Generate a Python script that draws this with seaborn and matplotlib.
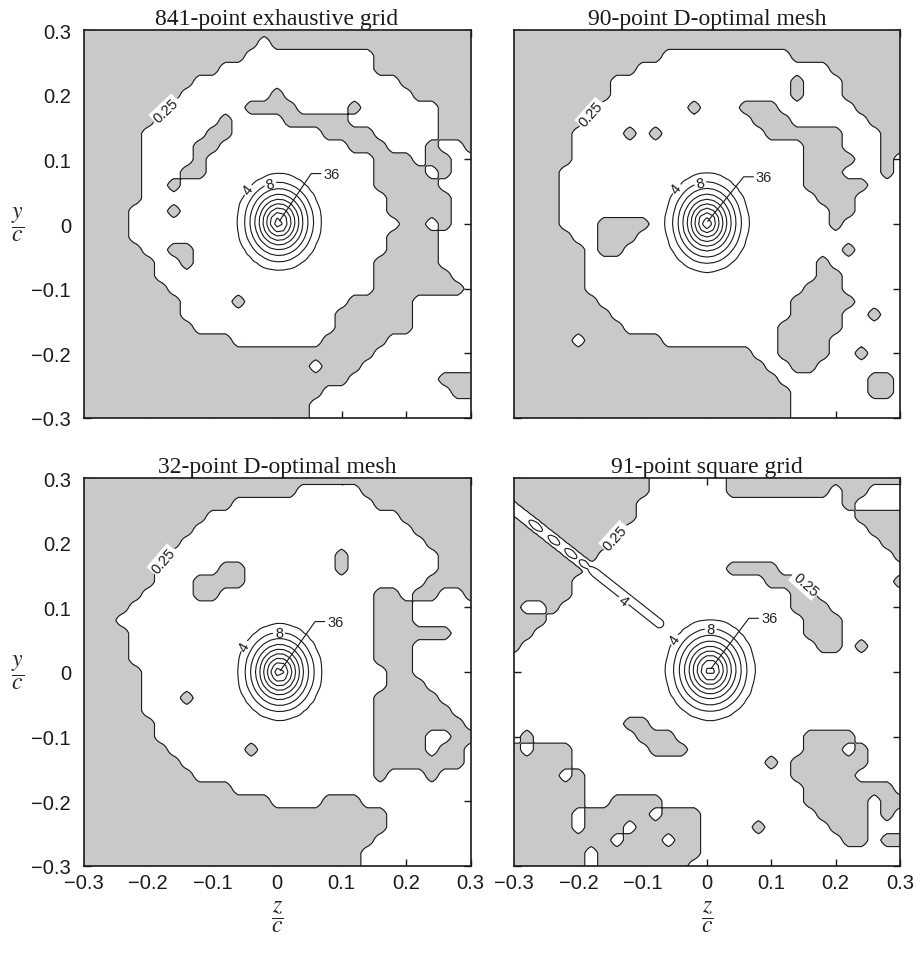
import numpy as np
import matplotlib
matplotlib.use("Agg")
import matplotlib.pyplot as plt
import seaborn as sns

# ---------------- data ----------------
TITLES = ["841-point exhaustive grid", "90-point D-optimal mesh",
          "32-point D-optimal mesh", "91-point square grid"]
TICKS = [-0.3, -0.2, -0.1, 0.0, 0.1, 0.2, 0.3]
TICK_LABELS = ["\u22120.3", "\u22120.2", "\u22120.1", "0", "0.1", "0.2", "0.3"]
BOUNDARY_LEVEL = 0.25
PEAK_LEVELS = [4, 8, 12, 16, 20, 24, 28, 32, 36]

# radial profile of the central peak (radius in z/c, value)
PEAK_R = [0.0, 0.0055, 0.013, 0.018, 0.024, 0.030, 0.036, 0.044, 0.052, 0.062, 0.085]
PEAK_V = [42, 36, 32, 28, 24, 20, 16, 12, 8, 4, 0]
PEAK_CENTER = [(0.003, 0.003), (0.0, 0.002), (0.004, 0.0), (0.005, 0.003)]
PEAK_ASPECT = [1.15, 1.18, 1.15, 1.12]
PEAK_SCALE = [1.0, 1.0, 1.0, 1.07]

# white (above 0.25) runs per row of a 31x31 grid, step 0.02, row 0 = y/c 0.3
WHITE_841 = [
    [], [(14, 14)], [(13, 22)], [(11, 22)], [(9, 24)], [(8, 14), (16, 25)],
    [(7, 12), (17, 20), (22, 27)], [(6, 10), (12, 15), (21, 27)],
    [(5, 9), (12, 18), (23, 27)], [(5, 8), (11, 20), (24, 26), (28, 29)],
    [(5, 8), (10, 22), (26, 26), (29, 30)], [(5, 7), (10, 22), (27, 27), (29, 30)],
    [(5, 6), (8, 22), (28, 30)], [(5, 23), (29, 30)], [(4, 6), (8, 23), (29, 30)],
    [(4, 24), (27, 27), (29, 30)], [(4, 23), (28, 30)], [(5, 6), (9, 23), (28, 30)],
    [(6, 7), (9, 22), (28, 30)], [(6, 22), (29, 30)], [(7, 22), (30, 30)],
    [(8, 11), (13, 20), (26, 30)], [(8, 19), (26, 30)], [(9, 19), (26, 30)],
    [(12, 18), (24, 30)], [(23, 30)], [(18, 18), (22, 30)], [(21, 27)],
    [(19, 28)], [(18, 30)], [(18, 30)]]
WHITE_90 = [
    [], [], [(12, 21)], [(10, 24)], [(8, 21), (23, 25)], [(8, 21), (23, 25)],
    [(7, 13), (15, 17), (21, 26)], [(6, 18), (22, 27)],
    [(5, 8), (10, 10), (12, 19), (26, 28)], [(5, 22), (26, 28)],
    [(5, 22), (27, 28), (30, 30)], [(4, 22), (26, 28), (30, 30)],
    [(4, 22), (28, 30)], [(4, 23), (27, 30)], [(4, 24), (27, 30)],
    [(4, 6), (11, 24), (26, 30)], [(5, 6), (10, 30)], [(6, 6), (9, 25), (27, 30)],
    [(6, 23), (25, 30)], [(6, 23), (26, 30)], [(6, 22), (26, 30)],
    [(7, 21), (27, 30)], [(8, 21), (26, 27), (29, 30)], [(9, 20), (26, 30)],
    [(5, 5), (12, 20), (25, 30)], [(19, 20), (25, 26), (28, 30)],
    [(20, 21), (24, 30)], [(21, 27), (30, 30)], [(22, 27), (30, 30)],
    [(22, 30)], [(22, 30)]]
WHITE_32 = [
    [], [(17, 21)], [(12, 22)], [(10, 24)], [(9, 25)], [(8, 26)],
    [(7, 19), (21, 27)], [(6, 10), (13, 19), (21, 27)], [(6, 8), (13, 26)],
    [(5, 8), (11, 22), (25, 25), (28, 29)], [(4, 22), (26, 30)],
    [(3, 22), (26, 30)], [(4, 22), (29, 30)], [(4, 22), (26, 30)],
    [(4, 22), (26, 30)], [(5, 23), (26, 30)], [(5, 23), (27, 30)],
    [(5, 7), (9, 22), (28, 30)], [(5, 22), (29, 30)], [(6, 22), (30, 30)],
    [(6, 22), (27, 28)], [(7, 12), (14, 22), (27, 27), (30, 30)],
    [(8, 22), (30, 30)], [(9, 22), (24, 26), (28, 30)], [(12, 30)],
    [(15, 18), (22, 30)], [(24, 30)], [(24, 30)], [(23, 30)], [(22, 30)],
    [(22, 30)]]
WHITE_91 = [
    [(11, 16)], [(11, 16), (25, 25), (28, 30)], [(10, 25), (27, 30)],
    [(10, 26)], [(9, 27)], [(8, 28)], [(7, 29)], [(6, 16), (21, 30)],
    [(5, 19), (23, 29)], [(5, 21), (24, 30)], [(1, 2), (4, 21), (25, 30)],
    [(3, 22), (26, 30)], [(2, 22), (26, 30)], [(1, 23), (26, 26), (28, 30)],
    [(0, 30)], [(0, 30)], [(0, 30)], [(0, 30)], [(0, 30)],
    [(0, 8), (11, 30)], [(0, 0), (2, 9), (13, 22), (27, 30)],
    [(1, 1), (5, 10), (14, 22), (26, 26), (28, 30)],
    [(5, 19), (21, 21), (28, 30)], [(4, 4), (6, 21), (27, 30)],
    [(6, 22), (30, 30)], [(6, 7), (12, 22), (28, 28)],
    [(5, 5), (11, 11), (15, 23), (28, 28), (30, 30)],
    [(5, 5), (9, 9), (15, 18), (20, 24), (28, 30)],
    [(8, 8), (12, 12), (15, 25), (28, 28)], [(6, 6), (15, 30)],
    [(6, 6), (14, 30)]]
WHITE_RUNS = [WHITE_841, WHITE_90, WHITE_32, WHITE_91]

# spurious ridge of the 91-point square grid
RIDGE_START = (-0.31, 0.2604)
RIDGE_END = (-0.074, 0.075)
RIDGE_S = [0.0, 0.12, 0.185, 0.25, 0.305, 0.36, 0.415, 0.465, 0.50, 0.535, 0.58, 1.0]
RIDGE_H = [3, 3, 6, 3, 6, 3, 6, 3.5, 5.5, 3.8, 7, 7]
RIDGE_HALF_WIDTH = 0.0095

# contour label positions
LABEL_025 = [[(-0.173, 0.176)], [(-0.178, 0.166)], [(-0.172, 0.166)],
             [(-0.140, 0.204), (0.151, 0.1345)]]
LABEL_PEAK = [[(-0.044, 0.052), (-0.010, 0.061)],
              [(-0.044, 0.052), (-0.010, 0.062)],
              [(-0.049, 0.039), (0.003, 0.060)],
              [(-0.048, 0.048), (0.006, 0.066), (-0.128, 0.112)]]
LABEL_36 = [(0.072, 0.078), (0.076, 0.073), (0.078, 0.078), (0.084, 0.083)]

# ---------------- styling ----------------
sns.set_theme(style="ticks")
plt.rcParams["font.family"] = ["Liberation Sans", "DejaVu Sans"]
plt.rcParams["mathtext.fontset"] = "stix"
plt.rcParams["axes.unicode_minus"] = True

GRAY = "#c8c9cb"
LW = 0.8
AX_POS = [(0.0914, 0.5608, 0.4234, 0.4067), (0.5624, 0.5608, 0.4223, 0.4067),
          (0.0914, 0.0912, 0.4234, 0.4067), (0.5624, 0.0912, 0.4223, 0.4067)]


def upsample(coarse_axis, values, fine_axis):
    tmp = np.array([np.interp(fine_axis, coarse_axis, row) for row in values])
    out = np.array([np.interp(fine_axis, coarse_axis, tmp[:, k])
                    for k in range(len(fine_axis))]).T
    return out


g = np.linspace(-0.3, 0.3, 31)
gp = np.linspace(-0.3, 0.3, 61)
f = np.linspace(-0.3, 0.3, 301)
X, Y = np.meshgrid(f, f)


def field(k):
    M = np.zeros((31, 31))
    for j, runs in enumerate(WHITE_RUNS[k]):
        for a, b in runs:
            M[j, a:b + 1] = 0.5
    bg = upsample(g, M[::-1], f)
    PZ, PY = np.meshgrid(gp, gp)
    cz, cy = PEAK_CENTER[k]
    r = np.sqrt((PZ - cz) ** 2 + ((PY - cy) / PEAK_ASPECT[k]) ** 2) / PEAK_SCALE[k]
    pk = upsample(gp, np.interp(r, PEAK_R, PEAK_V), f)
    F = bg + pk
    if k == 3:
        a = np.array(RIDGE_START)
        b = np.array(RIDGE_END)
        d = b - a
        t = ((X - a[0]) * d[0] + (Y - a[1]) * d[1]) / (d @ d)
        t = np.clip(t, 0, 1)
        dist = np.hypot(X - (a[0] + t * d[0]), Y - (a[1] + t * d[1]))
        h = np.interp(t, RIDGE_S, RIDGE_H)
        F = F + h * np.clip(1 - (dist / RIDGE_HALF_WIDTH) ** 2, 0, None)
    return F


fig = plt.figure(figsize=(9.14, 9.54), dpi=100)
for k in range(4):
    ax = fig.add_axes(AX_POS[k])
    F = field(k)
    ax.contourf(X, Y, F, levels=[F.min() - 1, BOUNDARY_LEVEL], colors=[GRAY])
    cs_b = ax.contour(X, Y, F, levels=[BOUNDARY_LEVEL], colors="k", linewidths=LW)
    cs_p = ax.contour(X, Y, F, levels=PEAK_LEVELS, colors="k", linewidths=LW)
    ax.set_xlim(-0.3, 0.3)
    ax.set_ylim(-0.3, 0.3)
    lb = ax.clabel(cs_b, manual=LABEL_025[k], fmt="%.2f", fontsize=10.5,
                   inline=True, inline_spacing=3)
    for t in lb:
        t.set_bbox(dict(facecolor="white", edgecolor="none", pad=1.0))
    ax.clabel(cs_p, manual=LABEL_PEAK[k], fmt="%d", fontsize=10.5,
              inline=True, inline_spacing=2)
    cz, cy = PEAK_CENTER[k]
    tx, ty = LABEL_36[k]
    ax.plot([cz + 0.001, tx - 0.019, tx - 0.004], [cy + 0.002, ty, ty],
            color="k", lw=LW)
    ax.text(tx, ty, "36", fontsize=10.5, ha="left", va="center")

    ax.set_xticks(TICKS)
    ax.set_yticks(TICKS)
    ax.tick_params(direction="in", top=True, right=True, length=5, width=1,
                   labelsize=14.5, colors="k")
    ax.tick_params(axis="x", pad=5)
    ax.tick_params(axis="y", pad=9)
    if k >= 2:
        ax.set_xticklabels(TICK_LABELS)
    else:
        ax.set_xticklabels([])
    if k % 2 == 0:
        ax.set_yticklabels(TICK_LABELS)
    else:
        ax.set_yticklabels([])
    for sp in ax.spines.values():
        sp.set_color("k")
        sp.set_linewidth(1.2)
    ax.set_title(TITLES[k], fontfamily="Liberation Serif", fontsize=17,
                 pad=4, color="k")

for yc in (225 / 954, 673 / 954):
    fig.text(18 / 914, 1 - yc, r"$\dfrac{y}{c}$", fontsize=17,
             ha="center", va="center")
for xc in (277 / 914, 707 / 914):
    fig.text(xc, 1 - 917 / 954, r"$\dfrac{z}{c}$", fontsize=17,
             ha="center", va="center")

fig.savefig("out.png", dpi=100, facecolor="white")
